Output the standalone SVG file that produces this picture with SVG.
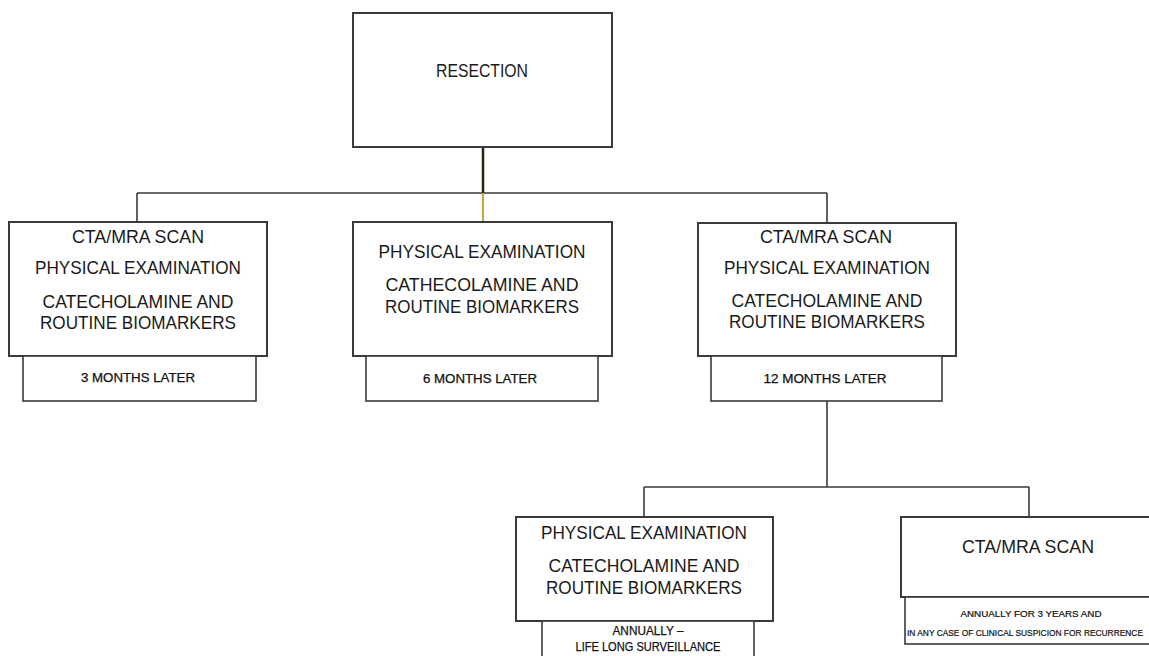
<svg xmlns="http://www.w3.org/2000/svg" width="1149" height="656" viewBox="0 0 1149 656">
<style>
.box{fill:#fff;stroke:#3a3a3a;stroke-width:2}
.sub{fill:#fff;stroke:#3a3a3a;stroke-width:1.6}
.t{font-family:"Liberation Sans",Arial,sans-serif;font-size:18px;fill:#1a1a1a;text-anchor:middle}
.s{font-family:"Liberation Sans",Arial,sans-serif;font-size:12px;fill:#111;stroke:#111;stroke-width:0.25;text-anchor:middle}
.xs{font-family:"Liberation Sans",Arial,sans-serif;font-size:8.5px;fill:#111;stroke:#111;stroke-width:0.2;text-anchor:middle}
.ln{fill:none;stroke:#3a3a3a;stroke-width:1.6}
</style>
<rect width="1149" height="656" fill="#fff"/>
<g id="connectors">
<line class="ln" x1="137" y1="193" x2="827" y2="193"/>
<line x1="483" y1="147" x2="483" y2="193" stroke="#2a2010" stroke-width="2.5"/>
<line x1="483" y1="193" x2="483" y2="222" stroke="#c9a33a" stroke-width="2"/>
<line class="ln" x1="137" y1="193" x2="137" y2="222"/>
<line class="ln" x1="827" y1="193" x2="827" y2="223"/>
<line class="ln" x1="827" y1="401" x2="827" y2="487"/>
<line class="ln" x1="644" y1="487" x2="1029" y2="487"/>
<line class="ln" x1="644" y1="487" x2="644" y2="517"/>
<line class="ln" x1="1029" y1="487" x2="1029" y2="517"/>
</g>
<g id="resection">
<rect class="box" x="353" y="13" width="259" height="134"/>
<text class="t" x="482" y="77" textLength="92" lengthAdjust="spacingAndGlyphs">RESECTION</text>
</g>
<g id="node-3m">
<rect class="box" x="9" y="222" width="258" height="134"/>
<text class="t" x="138" y="243" textLength="132" lengthAdjust="spacingAndGlyphs">CTA/MRA  SCAN</text>
<text class="t" x="138" y="274" textLength="206" lengthAdjust="spacingAndGlyphs">PHYSICAL EXAMINATION</text>
<text class="t" x="138" y="308" textLength="191" lengthAdjust="spacingAndGlyphs">CATECHOLAMINE  AND</text>
<text class="t" x="138" y="329" textLength="196" lengthAdjust="spacingAndGlyphs">ROUTINE  BIOMARKERS</text>
<rect class="sub" x="23" y="356" width="233" height="45"/>
<text class="s" x="138" y="382" textLength="114" lengthAdjust="spacingAndGlyphs">3 MONTHS LATER</text>
</g>
<g id="node-6m">
<rect class="box" x="353" y="222" width="259" height="134"/>
<text class="t" x="482" y="258" textLength="207" lengthAdjust="spacingAndGlyphs">PHYSICAL EXAMINATION</text>
<text class="t" x="482" y="291" textLength="193" lengthAdjust="spacingAndGlyphs">CATHECOLAMINE  AND</text>
<text class="t" x="482" y="313" textLength="194" lengthAdjust="spacingAndGlyphs">ROUTINE  BIOMARKERS</text>
<rect class="sub" x="366" y="356" width="232" height="45"/>
<text class="s" x="480" y="383" textLength="114" lengthAdjust="spacingAndGlyphs">6 MONTHS LATER</text>
</g>
<g id="node-12m">
<rect class="box" x="698" y="223" width="258" height="133"/>
<text class="t" x="826" y="243" textLength="132" lengthAdjust="spacingAndGlyphs">CTA/MRA  SCAN</text>
<text class="t" x="827" y="274" textLength="206" lengthAdjust="spacingAndGlyphs">PHYSICAL EXAMINATION</text>
<text class="t" x="827" y="307" textLength="191" lengthAdjust="spacingAndGlyphs">CATECHOLAMINE  AND</text>
<text class="t" x="827" y="328" textLength="196" lengthAdjust="spacingAndGlyphs">ROUTINE  BIOMARKERS</text>
<rect class="sub" x="711" y="356" width="231" height="45"/>
<text class="s" x="825" y="383" textLength="123" lengthAdjust="spacingAndGlyphs">12 MONTHS LATER</text>
</g>
<g id="node-annual-exam">
<rect class="box" x="516" y="517" width="257" height="104"/>
<text class="t" x="644" y="539" textLength="206" lengthAdjust="spacingAndGlyphs">PHYSICAL EXAMINATION</text>
<text class="t" x="644" y="572" textLength="191" lengthAdjust="spacingAndGlyphs">CATECHOLAMINE  AND</text>
<text class="t" x="644" y="594" textLength="196" lengthAdjust="spacingAndGlyphs">ROUTINE  BIOMARKERS</text>
<rect class="sub" x="542" y="621" width="212" height="40"/>
<text class="s" x="648" y="635" textLength="71" lengthAdjust="spacingAndGlyphs">ANNUALLY –</text>
<text class="s" x="648" y="651" textLength="145" lengthAdjust="spacingAndGlyphs">LIFE LONG SURVEILLANCE</text>
</g>
<g id="node-annual-scan">
<rect class="box" x="901" y="517" width="260" height="80"/>
<text class="t" x="1028" y="553" textLength="132" lengthAdjust="spacingAndGlyphs">CTA/MRA  SCAN</text>
<rect class="sub" x="905" y="597" width="260" height="47"/>
<text class="xs" x="1031" y="617" textLength="141" lengthAdjust="spacingAndGlyphs">ANNUALLY FOR 3 YEARS AND</text>
<text class="xs" x="1025" y="636" textLength="236" lengthAdjust="spacingAndGlyphs">IN ANY CASE OF CLINICAL SUSPICION FOR RECURRENCE</text>
</g>
</svg>
